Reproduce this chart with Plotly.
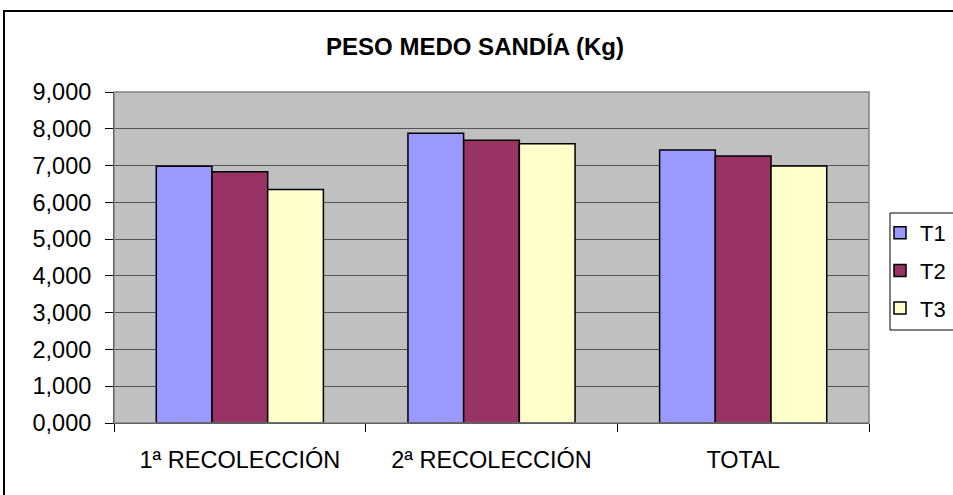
import plotly.graph_objects as go

categories = ["1ª RECOLECCIÓN", "2ª RECOLECCIÓN", "TOTAL"]
series_names = ["T1", "T2", "T3"]
t1_values = [6.98, 7.88, 7.42]
t2_values = [6.83, 7.69, 7.26]
t3_values = [6.35, 7.59, 6.99]
colors = ["#9999FF", "#993366", "#FFFFCC"]
y_ticks = [0, 1, 2, 3, 4, 5, 6, 7, 8, 9]

FONT = "Liberation Sans, Arial, sans-serif"

fig = go.Figure()
for name, vals, col in zip(series_names, [t1_values, t2_values, t3_values], colors):
    fig.add_trace(go.Bar(
        x=categories, y=vals, name=name, legendgroup=name,
        marker=dict(color=col, line=dict(color="black", width=1.5)),
    ))

L, R, T, B = 114, 84, 92, 72
W, H = 953, 495
pw, ph = W - L - R, H - T - B

def px2paper_x(px):
    return (px - L) / pw

def px2paper_y(py):
    return (H - B - py) / ph

fig.update_layout(
    width=W, height=H,
    margin=dict(l=L, r=R, t=T, b=B, autoexpand=False),
    paper_bgcolor="white",
    plot_bgcolor="#C0C0C0",
    separators=",.",
    font=dict(family=FONT, size=23.5, color="black"),
    barmode="group",
    bargap=0.336,
    bargroupgap=0,
    title=dict(text="<b>PESO MEDO SANDÍA (Kg)</b>", x=475 / W, xref="container",
               xanchor="center", y=1 - 47 / H, yref="container", yanchor="middle",
               font=dict(family=FONT, size=24, color="black")),
    legend=dict(x=880 / W, y=1 - 212 / H, xref="container", yref="container",
                xanchor="left", yanchor="top",
                borderwidth=0, bgcolor="rgba(0,0,0,0)",
                font=dict(family=FONT, size=22), tracegroupgap=6,
                itemwidth=30),
    showlegend=True,
)
fig.update_xaxes(
    type="category", tickson="boundaries", ticks="outside", ticklen=8,
    tickcolor="black", showline=True, linecolor="black", linewidth=1,
    showgrid=False, ticklabelstandoff=16, automargin=False,
)
fig.update_yaxes(
    range=[0, 9], tickvals=y_ticks, tickformat=".3f", ticks="outside", ticklen=8,
    tickcolor="black", showline=True, linecolor="black", linewidth=1,
    showgrid=True, gridcolor="#555555", gridwidth=1, zeroline=False,
    ticklabelstandoff=9, automargin=False,
)
# plot-area border (gray), legend box and outer chart border
fig.add_shape(type="rect", xref="paper", yref="paper", x0=0, x1=1, y0=0, y1=1,
              line=dict(color="#808080", width=1.5), layer="above")
fig.add_shape(type="rect", xref="paper", yref="paper",
              x0=px2paper_x(890), x1=px2paper_x(1000), y0=px2paper_y(330), y1=px2paper_y(213),
              line=dict(color="black", width=1), fillcolor="white", layer="above")
fig.add_shape(type="rect", xref="paper", yref="paper",
              x0=px2paper_x(4), x1=px2paper_x(1000), y0=px2paper_y(560), y1=px2paper_y(11),
              line=dict(color="black", width=2), layer="above")

fig.write_html("out.html", config={"displayModeBar": False},
               post_script="document.body.style.margin='0';document.body.style.overflow='hidden';")
